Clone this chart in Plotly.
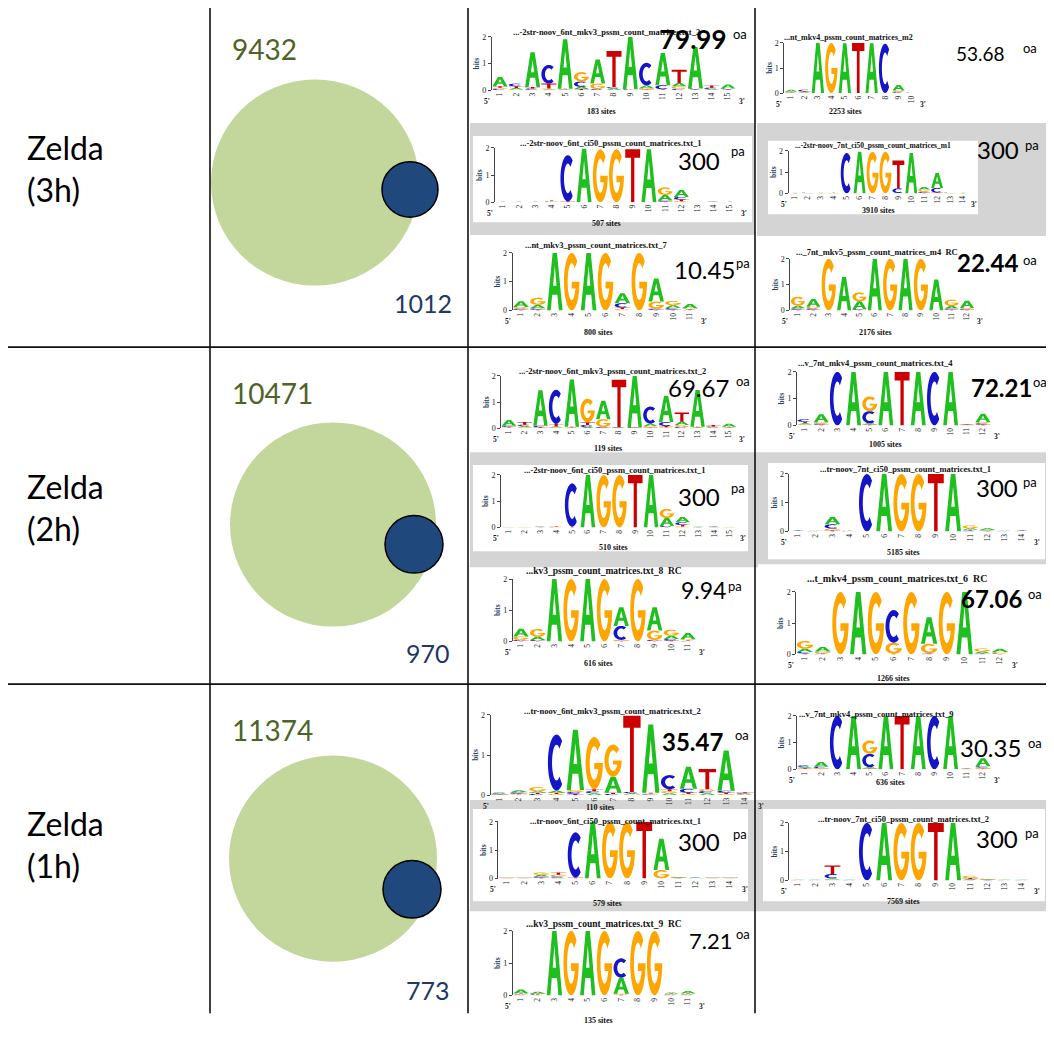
import math
import plotly.graph_objects as go

W, H = 1054, 1046
OFF = 8                      # the page body adds an 8 px margin
FW, FH = W - OFF, H - OFF

# ------------------------------------------------------------------ data
row_labels = ["Zelda<br>(3h)", "Zelda<br>(2h)", "Zelda<br>(1h)"]
peak_totals = [9432, 10471, 11374]
peak_overlaps = [1012, 970, 773]

logo01 = dict(title="...-2str-noov_6nt_mkv3_pssm_count_matrices.txt_2", sites=183, score="79.99", tag="oa",
              A=[0.35, 0.06, 1.30, 0.03, 1.85, 0.08, 0.90, 0.05, 1.95, 0.10, 1.20, 0.12, 1.55, 0.03, 0.15],
              C=[0.05, 0.10, 0.05, 0.70, 0.02, 0.20, 0.03, 0.05, 0.02, 0.85, 0.15, 0.05, 0.03, 0.05, 0.03],
              G=[0.05, 0.03, 0.02, 0.04, 0.02, 0.35, 0.20, 0.02, 0.01, 0.05, 0.02, 0.10, 0.02, 0.02, 0.02],
              T=[0.05, 0.06, 0.05, 0.18, 0.02, 0.05, 0.02, 1.35, 0.01, 0.03, 0.02, 0.50, 0.02, 0.08, 0.02])
logo02 = dict(title="...nt_mkv4_pssm_count_matrices_m2", sites=2253, score="53.68", tag="oa",
              A=[0.08, 0.03, 2.00, 0.01, 1.98, 0.01, 1.98, 0.01, 0.22, 0.01],
              C=[0.02, 0.06, 0.00, 0.00, 0.00, 0.00, 0.00, 1.95, 0.04, 0.01],
              G=[0.02, 0.02, 0.00, 1.98, 0.00, 0.00, 0.00, 0.00, 0.05, 0.00],
              T=[0.02, 0.03, 0.00, 0.00, 0.00, 1.98, 0.00, 0.00, 0.02, 0.00])
logo03 = dict(title="...-2str-noov_6nt_ci50_pssm_count_matrices.txt_1", sites=507, score="300", tag="pa",
              A=[0.005, 0.005, 0.005, 0.01, 0.0, 1.97, 0.0, 0.0, 0.0, 1.95, 0.20, 0.25, 0.01, 0.01, 0.005],
              C=[0.005, 0.005, 0.005, 0.01, 1.70, 0.0, 0.0, 0.0, 0.0, 0.0, 0.04, 0.10, 0.005, 0.01, 0.005],
              G=[0.005, 0.005, 0.005, 0.02, 0.0, 0.0, 1.95, 1.95, 0.0, 0.0, 0.28, 0.04, 0.005, 0.005, 0.005],
              T=[0.005, 0.005, 0.005, 0.03, 0.03, 0.0, 0.0, 0.0, 1.95, 0.0, 0.03, 0.06, 0.005, 0.01, 0.005])
logo04 = dict(title="...-2str-noov_7nt_ci50_pssm_count_matrices_m1", sites=3910, score="300", tag="pa",
              A=[0.01, 0.01, 0.01, 0.01, 0.0, 1.95, 0.0, 0.0, 0.02, 1.90, 0.12, 0.70, 0.01, 0.01],
              C=[0.01, 0.01, 0.01, 0.01, 1.90, 0.0, 0.0, 0.0, 0.22, 0.0, 0.05, 0.22, 0.01, 0.01],
              G=[0.01, 0.005, 0.01, 0.005, 0.0, 0.0, 1.95, 1.95, 0.0, 0.0, 0.10, 0.02, 0.005, 0.01],
              T=[0.005, 0.005, 0.005, 0.01, 0.0, 0.0, 0.0, 0.0, 1.30, 0.0, 0.03, 0.02, 0.005, 0.005])
logo05 = dict(title="...nt_mkv3_pssm_count_matrices.txt_7", sites=800, score="10.45", tag="pa",
              A=[0.20, 0.12, 2.0, 0.0, 2.0, 0.0, 0.35, 0.0, 0.80, 0.10, 0.15],
              C=[0.04, 0.04, 0.0, 0.0, 0.0, 0.0, 0.15, 0.0, 0.04, 0.05, 0.02],
              G=[0.06, 0.25, 0.0, 2.0, 0.0, 2.0, 0.05, 2.0, 0.25, 0.15, 0.03],
              T=[0.02, 0.03, 0.0, 0.0, 0.0, 0.0, 0.05, 0.0, 0.02, 0.03, 0.02])
logo06 = dict(title="..._7nt_mkv5_pssm_count_matrices_m4  RC", sites=2176, score="22.44", tag="oa",
              A=[0.10, 0.30, 0.0, 1.30, 0.30, 2.0, 0.0, 2.0, 0.0, 1.20, 0.10, 0.28],
              C=[0.05, 0.05, 0.0, 0.0, 0.03, 0.0, 0.0, 0.0, 0.0, 0.0, 0.04, 0.03],
              G=[0.35, 0.06, 2.0, 0.0, 0.35, 0.0, 2.0, 0.0, 2.0, 0.0, 0.25, 0.04],
              T=[0.03, 0.03, 0.0, 0.0, 0.02, 0.0, 0.0, 0.0, 0.0, 0.0, 0.03, 0.02])
logo07 = dict(title="...-2str-noov_6nt_mkv3_pssm_count_matrices.txt_2", sites=119, score="69.67", tag="oa",
              A=[0.22, 0.05, 1.35, 0.04, 1.80, 0.05, 0.70, 0.02, 1.95, 0.10, 1.00, 0.12, 1.40, 0.02, 0.12],
              C=[0.04, 0.05, 0.05, 1.30, 0.02, 0.08, 0.03, 0.02, 0.02, 0.65, 0.15, 0.05, 0.02, 0.03, 0.02],
              G=[0.03, 0.04, 0.02, 0.03, 0.02, 0.90, 0.30, 0.01, 0.01, 0.05, 0.04, 0.08, 0.02, 0.02, 0.02],
              T=[0.03, 0.10, 0.03, 0.10, 0.02, 0.10, 0.02, 1.80, 0.01, 0.03, 0.05, 0.35, 0.02, 0.06, 0.02])
logo08 = dict(title="...v_7nt_mkv4_pssm_count_matrices.txt_4", sites=1005, score="72.21", tag="oa",
              A=[0.05, 0.30, 0.0, 2.0, 0.05, 2.0, 0.0, 2.0, 0.0, 2.0, 0.01, 0.30],
              C=[0.10, 0.04, 2.0, 0.0, 0.45, 0.0, 0.0, 0.0, 2.0, 0.0, 0.01, 0.05],
              G=[0.03, 0.05, 0.0, 0.0, 0.55, 0.0, 0.0, 0.0, 0.0, 0.0, 0.01, 0.05],
              T=[0.05, 0.03, 0.0, 0.0, 0.03, 0.0, 2.0, 0.0, 0.0, 0.0, 0.02, 0.03])
logo09 = dict(title="...-2str-noov_6nt_ci50_pssm_count_matrices.txt_1", sites=510, score="300", tag="pa",
              A=[0.005, 0.005, 0.005, 0.01, 0.0, 2.0, 0.0, 0.0, 0.0, 2.0, 0.30, 0.20, 0.01, 0.01, 0.005],
              C=[0.005, 0.005, 0.01, 0.01, 1.65, 0.0, 0.0, 0.0, 0.0, 0.0, 0.04, 0.10, 0.005, 0.01, 0.005],
              G=[0.005, 0.005, 0.005, 0.02, 0.0, 0.0, 2.0, 2.0, 0.0, 0.0, 0.35, 0.04, 0.005, 0.005, 0.005],
              T=[0.005, 0.005, 0.005, 0.02, 0.03, 0.0, 0.0, 0.0, 2.0, 0.0, 0.02, 0.06, 0.005, 0.01, 0.005])
logo10 = dict(title="...tr-noov_7nt_ci50_pssm_count_matrices.txt_1", sites=5185, score="300", tag="pa",
              A=[0.01, 0.01, 0.25, 0.01, 0.0, 2.0, 0.0, 0.0, 0.0, 2.0, 0.05, 0.06, 0.01, 0.01],
              C=[0.01, 0.005, 0.15, 0.005, 2.0, 0.0, 0.0, 0.0, 0.0, 0.0, 0.03, 0.02, 0.005, 0.01],
              G=[0.005, 0.005, 0.06, 0.01, 0.0, 0.0, 2.0, 2.0, 0.0, 0.0, 0.10, 0.02, 0.005, 0.005],
              T=[0.005, 0.005, 0.04, 0.01, 0.0, 0.0, 0.0, 0.0, 2.0, 0.0, 0.03, 0.01, 0.005, 0.005])
logo11 = dict(title="...kv3_pssm_count_matrices.txt_8  RC", sites=616, score="9.94", tag="pa",
              A=[0.25, 0.10, 2.0, 0.0, 2.0, 0.0, 0.60, 0.0, 0.75, 0.10, 0.20],
              C=[0.04, 0.03, 0.0, 0.0, 0.0, 0.0, 0.45, 0.0, 0.03, 0.05, 0.02],
              G=[0.10, 0.25, 0.0, 2.0, 0.0, 2.0, 0.03, 2.0, 0.30, 0.20, 0.03],
              T=[0.02, 0.02, 0.0, 0.0, 0.0, 0.0, 0.02, 0.0, 0.02, 0.03, 0.02])
logo12 = dict(title="...t_mkv4_pssm_count_matrices.txt_6  RC", sites=1266, score="67.06", tag="oa",
              A=[0.10, 0.15, 0.0, 2.0, 0.0, 0.0, 0.0, 0.85, 0.0, 2.0, 0.05, 0.10],
              C=[0.05, 0.02, 0.0, 0.0, 0.0, 1.05, 0.0, 0.02, 0.0, 0.0, 0.02, 0.02],
              G=[0.25, 0.05, 2.0, 0.0, 2.0, 0.35, 2.0, 0.30, 2.0, 0.0, 0.10, 0.05],
              T=[0.03, 0.02, 0.0, 0.0, 0.0, 0.02, 0.0, 0.02, 0.0, 0.0, 0.02, 0.01])
logo13 = dict(title="...tr-noov_6nt_mkv3_pssm_count_matrices.txt_2", sites=110, score="35.47", tag="oa",
              A=[0.02, 0.05, 0.04, 0.05, 1.50, 0.05, 0.40, 0.03, 1.70, 0.05, 0.55, 0.05, 1.00, 0.02],
              C=[0.02, 0.03, 0.03, 1.40, 0.05, 0.05, 0.03, 0.03, 0.02, 0.35, 0.10, 0.05, 0.05, 0.02],
              G=[0.01, 0.02, 0.10, 0.03, 0.05, 1.30, 0.80, 0.02, 0.02, 0.05, 0.03, 0.05, 0.03, 0.01],
              T=[0.01, 0.02, 0.03, 0.03, 0.03, 0.05, 0.03, 1.90, 0.02, 0.05, 0.03, 0.50, 0.03, 0.02])
logo14 = dict(title="...v_7nt_mkv4_pssm_count_matrices.txt_9", sites=636, score="30.35", tag="oa",
              A=[0.04, 0.18, 0.0, 2.0, 0.05, 2.0, 0.0, 2.0, 0.0, 2.0, 0.01, 0.30],
              C=[0.06, 0.05, 2.0, 0.0, 0.50, 0.0, 0.0, 0.0, 2.0, 0.0, 0.01, 0.05],
              G=[0.02, 0.03, 0.0, 0.0, 0.50, 0.0, 0.0, 0.0, 0.0, 0.0, 0.01, 0.04],
              T=[0.03, 0.02, 0.0, 0.0, 0.03, 0.0, 2.0, 0.0, 0.0, 0.0, 0.01, 0.03])
logo15 = dict(title="...tr-noov_6nt_ci50_pssm_count_matrices.txt_1", sites=579, score="300", tag="pa",
              A=[0.005, 0.005, 0.06, 0.03, 0.0, 2.0, 0.0, 0.0, 0.0, 1.10, 0.02, 0.01, 0.005, 0.005],
              C=[0.005, 0.005, 0.04, 0.04, 1.60, 0.0, 0.0, 0.0, 0.0, 0.0, 0.01, 0.01, 0.005, 0.005],
              G=[0.005, 0.005, 0.08, 0.06, 0.0, 0.0, 2.0, 2.0, 0.0, 0.30, 0.02, 0.005, 0.005, 0.005],
              T=[0.005, 0.005, 0.03, 0.08, 0.03, 0.0, 0.0, 0.0, 2.0, 0.0, 0.01, 0.005, 0.005, 0.005])
logo16 = dict(title="...tr-noov_7nt_ci50_pssm_count_matrices.txt_2", sites=7569, score="300", tag="pa",
              A=[0.01, 0.01, 0.04, 0.01, 0.0, 2.0, 0.0, 0.0, 0.0, 2.0, 0.03, 0.02, 0.01, 0.01],
              C=[0.005, 0.005, 0.15, 0.005, 2.0, 0.0, 0.0, 0.0, 0.0, 0.0, 0.02, 0.01, 0.005, 0.005],
              G=[0.005, 0.005, 0.03, 0.005, 0.0, 0.0, 2.0, 2.0, 0.0, 0.0, 0.08, 0.02, 0.005, 0.005],
              T=[0.005, 0.005, 0.30, 0.005, 0.0, 0.0, 0.0, 0.0, 2.0, 0.0, 0.03, 0.01, 0.005, 0.005])
logo17 = dict(title="...kv3_pssm_count_matrices.txt_9  RC", sites=135, score="7.21", tag="oa",
              A=[0.12, 0.06, 2.0, 0.0, 2.0, 0.0, 0.50, 0.0, 0.0, 0.03, 0.08],
              C=[0.02, 0.02, 0.0, 0.0, 0.0, 0.0, 0.60, 0.0, 0.0, 0.02, 0.02],
              G=[0.02, 0.01, 0.0, 2.0, 0.0, 2.0, 0.03, 2.0, 2.0, 0.02, 0.02],
              T=[0.02, 0.02, 0.0, 0.0, 0.0, 0.0, 0.02, 0.0, 0.0, 0.02, 0.02])

logos = [logo01, logo02, logo03, logo04, logo05, logo06, logo07, logo08, logo09,
         logo10, logo11, logo12, logo13, logo14, logo15, logo16, logo17]

# ------------------------------------------------------------------ layout / style (window pixels)
# (first position px, last position px, y px of 2 bits, y px of 0 bits)
LOGO_BOX = [(500, 728, 33, 87), (791, 912, 39, 90), (503, 730, 145, 200), (795, 963, 148, 191),
            (521, 690, 251, 309), (798, 967, 257, 309), (509, 729, 375, 428), (805, 983, 371, 425),
            (509, 730, 475, 528), (798, 1022, 474, 532), (521, 688, 580, 643), (805, 1000, 593, 656),
            (500, 745, 717, 798), (805, 983, 718, 772), (507, 730, 825, 882), (798, 1022, 826, 884),
            (521, 688, 935, 1000)]
TITLE_POS = [(606, 28, 8.5), (848, 34, 8), (610, 140, 8.5), (873, 143, 7.5), (596, 243, 8.5), (877, 250, 8.5),
             (612, 370, 8.5), (875, 362, 8.5), (614, 470, 8.5), (905, 469, 8.5), (604, 572, 9.5), (897, 579, 10),
             (612, 713, 8.5), (876, 716, 8.5), (615, 824, 8.5), (903, 822, 8.5), (604, 928, 9.5)]
SITES_POS = [(601, 108), (845, 108), (606, 221), (878, 208), (598, 331), (875, 331), (608, 448), (885, 444),
             (613, 548), (903, 553), (598, 665), (893, 680), (600, 810), (890, 785), (607, 907), (903, 905),
             (598, 1025)]
SCORE_POS = [(693, 35, 26, True), (980, 50, 19, False), (699, 158, 24, False), (998, 147, 24, False),
             (704, 268, 24, False), (987, 261, 24, True), (698, 387, 24, False), (1001, 387, 24, True),
             (699, 497, 24, False), (997, 488, 24, False), (703, 591, 23, False), (991, 600, 24, True),
             (692, 744, 24, True), (990, 750, 24, False), (699, 845, 24, False), (997, 842, 24, False),
             (710, 945, 22, False)]
TAG_POS = [(740, 30), (1030, 44), (738, 148), (1032, 142), (743, 261), (1030, 258), (743, 380), (1040, 381),
           (738, 488), (1030, 482), (735, 587), (1035, 595), (742, 737), (1035, 745), (740, 837), (1032, 836),
           (743, 938)]
GRAY_FRAMES = [((470, 120, 755, 233), (473, 133, 752, 220)),
               ((757, 120, 1050, 234), (768, 138, 978, 212)),
               ((470, 452, 758, 568), (473, 465, 748, 552)),
               ((757, 452, 1050, 565), (768, 463, 1045, 560)),
               ((470, 803, 758, 915), (473, 812, 748, 905)),
               ((757, 803, 1050, 915), (763, 812, 1045, 905))]
ROW_LABEL_Y = [166, 508, 848]
BIG_CIRCLES = [(315, 180, 104), (333, 525, 103), (333, 862, 104)]
SMALL_CIRCLES = [(410, 187, 28), (414, 545, 29), (412, 893, 29)]
TOTAL_POS = [(230, 45), (230, 392), (230, 732)]
OVERLAP_POS = [(423, 302), (428, 655), (428, 995)]

COLORS = {"A": "#1fbf1f", "C": "#1414c8", "G": "#ffa500", "T": "#cc0000"}
SANS = "Lato, 'Open Sans', sans-serif"
SERIF = "'Liberation Serif', 'DejaVu Serif', serif"


def px(x):
    return (x - OFF) / FW


def py(y):
    return 1 - (y - OFF) / FH


def arc(cx, cy, rx, ry, a0, a1, n):
    pts = []
    for i in range(n + 1):
        a = math.radians(a0 + (a1 - a0) * i / n)
        pts.append((cx + rx * math.cos(a), cy + ry * math.sin(a)))
    return pts


GLYPHS = {
    "A": [[(0, 0), (0.36, 1), (0.64, 1), (1, 0), (0.76, 0), (0.67, 0.27), (0.33, 0.27), (0.24, 0)],
          [(0.39, 0.43), (0.61, 0.43), (0.5, 0.78)]],
    "T": [[(0, 1), (1, 1), (1, 0.84), (0.61, 0.84), (0.61, 0), (0.39, 0), (0.39, 0.84), (0, 0.84)]],
    "C": [arc(0.5, 0.5, 0.5, 0.5, 50, 310, 26) + arc(0.5, 0.5, 0.26, 0.32, 310, 50, 26)],
    "G": [arc(0.5, 0.5, 0.5, 0.5, 45, 360, 30) + [(0.5, 0.5), (0.5, 0.38)]
          + arc(0.5, 0.5, 0.26, 0.32, 338, 45, 30)],
}


def glyph_path(ch, xc, hw, y0, h):
    parts = []
    for poly in GLYPHS[ch]:
        pts = ["%.4f,%.4f" % (xc - hw + u * 2 * hw, y0 + v * h) for u, v in poly]
        parts.append("M" + " L".join(pts) + " Z")
    return " ".join(parts)


fig = go.Figure()
shapes = []
annotations = []

for (g, w) in GRAY_FRAMES:
    shapes.append(dict(type="rect", xref="paper", yref="paper", x0=px(g[0]), x1=px(g[2]), y0=py(g[3]), y1=py(g[1]),
                       fillcolor="#d4d4d4", line=dict(width=0), layer="below"))
    shapes.append(dict(type="rect", xref="paper", yref="paper", x0=px(w[0]), x1=px(w[2]), y0=py(w[3]), y1=py(w[1]),
                       fillcolor="white", line=dict(width=0), layer="below"))

for x in (210, 468, 755):
    shapes.append(dict(type="line", xref="paper", yref="paper", x0=px(x), x1=px(x), y0=py(0), y1=py(1018),
                       line=dict(color="#111111", width=1.6)))
for y in (346, 686):
    shapes.append(dict(type="line", xref="paper", yref="paper", x0=px(0), x1=px(1050), y0=py(y), y1=py(y),
                       line=dict(color="#111111", width=1.8)))

for i in range(3):
    cx, cy, r = BIG_CIRCLES[i]
    shapes.append(dict(type="circle", xref="paper", yref="paper", x0=px(cx - r), x1=px(cx + r),
                       y0=py(cy + r), y1=py(cy - r), fillcolor="#c3d69b", line=dict(width=0)))
    cx, cy, r = SMALL_CIRCLES[i]
    shapes.append(dict(type="circle", xref="paper", yref="paper", x0=px(cx - r), x1=px(cx + r),
                       y0=py(cy + r), y1=py(cy - r), fillcolor="#1f497d", line=dict(color="black", width=1.5)))
    annotations.append(dict(text=row_labels[i], x=px(25), y=py(ROW_LABEL_Y[i]), xref="paper", yref="paper",
                            xanchor="left", yanchor="middle", align="left", showarrow=False,
                            font=dict(family=SANS, size=32, color="black")))
    annotations.append(dict(text=str(peak_totals[i]), x=px(TOTAL_POS[i][0]), y=py(TOTAL_POS[i][1]),
                            xref="paper", yref="paper", xanchor="left", yanchor="middle", showarrow=False,
                            font=dict(family=SANS, size=28, color="#4f6228")))
    annotations.append(dict(text=str(peak_overlaps[i]), x=px(OVERLAP_POS[i][0]), y=py(OVERLAP_POS[i][1]),
                            xref="paper", yref="paper", xanchor="center", yanchor="middle", showarrow=False,
                            font=dict(family=SANS, size=25, color="#1f3864")))

for k, lg in enumerate(logos, start=1):
    n = len(lg["A"])
    p1, pn, y2, y0 = LOGO_BOX[k - 1]
    step = (pn - p1) / (n - 1)
    xa = "x" if k == 1 else "x%d" % k
    ya = "y" if k == 1 else "y%d" % k
    xkey = "xaxis" if k == 1 else "xaxis%d" % k
    ykey = "yaxis" if k == 1 else "yaxis%d" % k
    positions = list(range(1, n + 1))
    totals = [lg["A"][j] + lg["C"][j] + lg["G"][j] + lg["T"][j] for j in range(n)]
    fig.add_trace(go.Scatter(x=positions, y=totals, mode="markers", marker=dict(opacity=0),
                             xaxis=xa, yaxis=ya, showlegend=False, hoverinfo="x+y"))
    fig.layout[xkey] = dict(domain=[px(p1 - step / 2), px(pn + step / 2)], anchor=ya,
                            range=[0.5, n + 0.5], tickvals=positions, ticktext=[str(p) for p in positions],
                            tickangle=-90, tickfont=dict(family=SERIF, size=7.5, color="#222"),
                            showgrid=False, zeroline=False, showline=False, ticks="", fixedrange=True)
    fig.layout[ykey] = dict(domain=[py(y0), py(y2)], anchor=xa, range=[0, 2], tickvals=[0, 1, 2],
                            tickfont=dict(family=SERIF, size=8, color="#222"), showgrid=False, zeroline=False,
                            showline=True, linecolor="#444", linewidth=0.8, ticks="outside", ticklen=3,
                            tickcolor="#444", title=dict(text="<b>bits</b>", font=dict(family=SERIF, size=7.5),
                                                         standoff=1), fixedrange=True)
    for j in range(n):
        heights = sorted([(lg[c][j], c) for c in "ACGT"])
        base = 0.0
        for h, c in heights:
            if h >= 0.004:
                shapes.append(dict(type="path", xref=xa, yref=ya, path=glyph_path(c, j + 1, 0.46, base, h),
                                   fillcolor=COLORS[c], line=dict(width=0)))
            base += h
    tx, ty, ts = TITLE_POS[k - 1]
    annotations.append(dict(text="<b>%s</b>" % lg["title"], x=px(tx), y=py(ty), xref="paper", yref="paper",
                            showarrow=False, xanchor="center", yanchor="middle",
                            font=dict(family=SERIF, size=ts, color="#111")))
    sx, sy = SITES_POS[k - 1]
    annotations.append(dict(text="<b>%d sites</b>" % lg["sites"], x=px(sx), y=py(sy), xref="paper",
                            yref="paper", showarrow=False, xanchor="center", yanchor="middle",
                            font=dict(family=SERIF, size=8, color="#111")))
    annotations.append(dict(text="<b>5'</b>", x=px(p1 - step / 2 - 5), y=py(y0 + 11), xref="paper",
                            yref="paper", showarrow=False, xanchor="center", yanchor="middle",
                            font=dict(family=SERIF, size=7.5, color="#111")))
    annotations.append(dict(text="<b>3'</b>", x=px(pn + step * 0.85), y=py(y0 + 11), xref="paper",
                            yref="paper", showarrow=False, xanchor="center", yanchor="middle",
                            font=dict(family=SERIF, size=7.5, color="#111")))
    cx, cy, fs, bold = SCORE_POS[k - 1]
    annotations.append(dict(text=("<b>%s</b>" % lg["score"]) if bold else lg["score"], x=px(cx), y=py(cy),
                            xref="paper", yref="paper", showarrow=False, xanchor="center", yanchor="middle",
                            font=dict(family=SANS, size=fs, color="black")))
    gx, gy = TAG_POS[k - 1]
    annotations.append(dict(text=lg["tag"], x=px(gx), y=py(gy), xref="paper", yref="paper", showarrow=False,
                            xanchor="center", yanchor="middle", font=dict(family=SANS, size=13, color="black")))

fig.update_layout(width=FW, height=FH, margin=dict(l=0, r=0, t=0, b=0), paper_bgcolor="white",
                  plot_bgcolor="rgba(0,0,0,0)", shapes=shapes, annotations=annotations, showlegend=False)
fig.write_html("out.html")
